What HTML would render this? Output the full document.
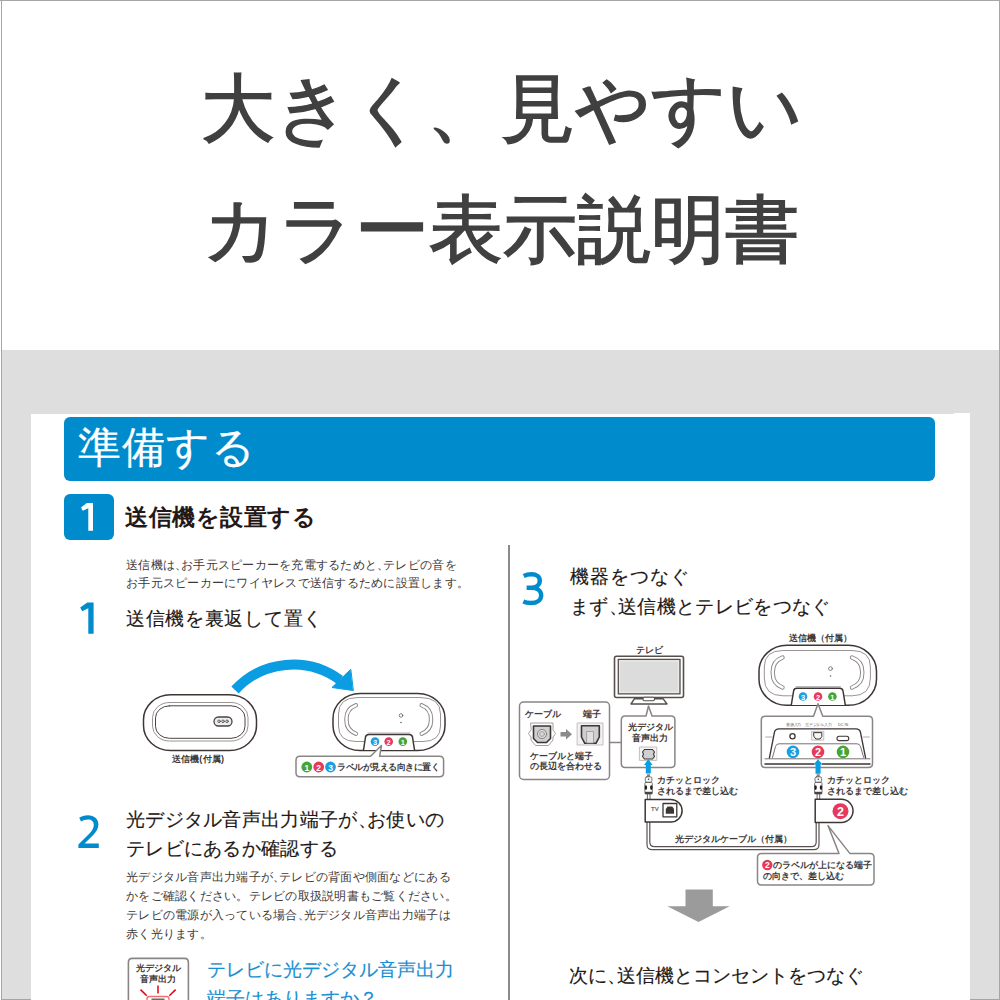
<!DOCTYPE html>
<html><head><meta charset="utf-8">
<style>
html,body{margin:0;padding:0;}
body{width:1000px;height:1000px;position:relative;overflow:hidden;background:#fff;font-family:"Liberation Sans",sans-serif;}
.a{position:absolute;white-space:nowrap;}
.h{left:0;width:1000px;height:1000px;}
.c{letter-spacing:0;}
.k{-webkit-text-stroke:0.15px currentColor}
.lb{color:#3e3a39;z-index:2}.b{font-weight:bold}.hp{display:inline-block;width:0.4em;text-align:center}
.hc{display:inline-block;width:0.5em;overflow:visible;}
</style></head><body>
<!-- top white area with borders -->
<div class="a" style="left:0;top:0;width:1000px;height:1px;background:#a6a6a6"></div>
<div class="a" style="left:1px;top:0;width:1px;height:1000px;background:#a6a6a6"></div>
<div class="a" style="left:999px;top:0;width:1px;height:1000px;background:#a6a6a6"></div>
<!-- gray band -->
<div class="a" style="left:2px;top:350px;width:997px;height:650px;background:#dedede"></div>
<div class="a" style="left:1px;top:999px;width:999px;height:1px;background:#a6a6a6"></div>
<!-- card -->
<div class="a" style="left:31px;top:414px;width:939px;height:586px;background:#fff"></div>
<div class="a" style="left:954px;top:413px;width:16px;height:2px;background:#fff"></div>
<!-- title -->
<div class="a" id="t1" style="-webkit-text-stroke:1.5px #404040;left:201px;top:72px;font-size:74px;line-height:74px;color:#404040">大きく、見やすい</div>
<div class="a" id="t2" style="-webkit-text-stroke:1.5px #404040;left:203px;top:193px;font-size:74px;line-height:74px;color:#404040">カラー表示説明書</div>
<!-- blue bar -->
<div class="a" style="left:64px;top:417px;width:871px;height:64px;background:#008ccc;border-radius:6px"></div>
<div class="a" style="left:78px;top:426px;font-size:43px;line-height:43px;letter-spacing:1px;color:#fff;-webkit-text-stroke:0.2px #fff">準備する</div>
<!-- step 1 box -->
<div class="a" style="left:64px;top:494px;width:50px;height:46px;background:#008ccc;border-radius:6px"></div>
<div class="a" style="left:125px;top:506px;font-size:23px;line-height:23px;letter-spacing:0.5px;color:#231815;font-weight:bold">送信機を設置する</div>
<!-- divider -->
<div class="a" style="left:508px;top:545px;width:2px;height:455px;background:#8a8a8a"></div>

<!-- left column text -->
<div class="a" style="left:126px;top:557px;font-size:12px;letter-spacing:0.26px;line-height:17.7px;color:#3e3a39">送信機は<span class="hc">、</span>お手元スピーカーを充電するためと<span class="hc">、</span>テレビの音を<br>お手元スピーカーにワイヤレスで送信するために設置します。</div>
<div class="a k" style="left:126px;top:609px;font-size:19px;line-height:19px;letter-spacing:0.7px;color:#231815">送信機を裏返して置く</div>

<div class="a k" style="left:126px;top:805px;font-size:19px;letter-spacing:0.3px;line-height:29px;color:#231815">光デジタル音声出力端子が<span class="hc">、</span>お使いの<br>テレビにあるか確認する</div>
<div class="a" style="left:126px;top:868px;font-size:12px;letter-spacing:0.26px;line-height:19px;color:#3e3a39">光デジタル音声出力端子が<span class="hc">、</span>テレビの背面や側面などにある<br>かをご確認ください。テレビの取扱説明書もご覧ください。<br>テレビの電源が入っている場合<span class="hc">、</span>光デジタル音声出力端子は<br>赤く光ります。</div>

<div class="a k" style="left:207px;top:956px;font-size:19px;line-height:28.5px;color:#1a8fd0">テレビに光デジタル音声出力<br>端子はありますか？</div>

<!-- right column -->
<div class="a k" style="left:570px;top:562px;font-size:19px;letter-spacing:0.3px;line-height:29.5px;color:#231815"><span style="letter-spacing:1.1px">機器をつなぐ</span><br>まず<span class="hc">、</span>送信機とテレビをつなぐ</div>
<div class="a k" style="left:569px;top:966px;font-size:19px;line-height:19px;color:#231815">次に<span class="hc">、</span>送信機とコンセントをつなぐ</div>


<!-- diagram labels -->
<div class="a lb b" style="left:172px;top:754px;font-size:9px;line-height:10px;">送信機<span class="hp">(</span>付属<span class="hp">)</span></div>
<div class="a lb b" style="left:337px;top:762px;font-size:9px;line-height:10px;letter-spacing:-0.5px">ラベルが見える向きに置く</div>
<div class="a lb b" style="left:636px;top:645px;font-size:9px;line-height:10px;">テレビ</div>
<div class="a lb b" style="left:525px;top:709px;font-size:9px;line-height:10px;">ケーブル</div>
<div class="a lb b" style="left:583px;top:709px;font-size:9px;line-height:10px;">端子</div>
<div class="a lb b" style="left:530px;top:751px;font-size:9px;line-height:10px;">ケーブルと端子<br>の長辺を合わせる</div>
<div class="a lb b" style="left:627px;top:722px;font-size:9px;line-height:10.5px;text-align:center;width:46px;">光デジタル<br>音声出力</div>
<div class="a lb b" style="left:657px;top:775px;font-size:9px;line-height:10.5px;">カチッとロック<br>されるまで差し込む</div>
<div class="a lb b" style="left:827px;top:775px;font-size:9px;line-height:10.5px;">カチッとロック<br>されるまで差し込む</div>
<div class="a lb b" style="left:675px;top:834px;font-size:9px;line-height:10px;">光デジタルケーブル（付属）</div>
<div class="a lb b" style="left:789px;top:633px;font-size:9px;line-height:10px;">送信機（付属）</div>
<div class="a lb b" style="left:773px;top:860px;font-size:9px;line-height:10.5px;">のラベルが上になる端子<br><span style="margin-left:-10px">の向きで、差し込む</span></div>
<div class="a lb b" style="left:651px;top:806px;font-size:6px;line-height:6px;color:#666">TV</div>
<div class="a lb" style="left:785.5px;top:723px;font-size:8px;line-height:8px;color:#555;transform:scale(0.47);transform-origin:0 0">音源入力</div>
<div class="a lb" style="left:805px;top:723px;font-size:8px;line-height:8px;color:#555;transform:scale(0.47);transform-origin:0 0">光デジタル入力</div>
<div class="a lb" style="left:838px;top:723px;font-size:8px;line-height:8px;color:#555;transform:scale(0.47);transform-origin:0 0">DC IN</div>
<div class="a lb b" style="left:135px;top:963px;font-size:9px;line-height:10.5px;text-align:center;width:46px;">光デジタル<br>音声出力</div>
<svg class="a h" style="left:0;top:0" width="1000" height="1000" viewBox="0 0 1000 1000">
<g fill="none" stroke-linejoin="round" stroke-linecap="round">
<!-- ===== Section 1 illustration ===== -->
<!-- left device -->
<rect x="143.5" y="694.8" width="113" height="55.7" rx="27" ry="25" stroke="#3d3635" stroke-width="1.5"/>
<rect x="152.5" y="702.5" width="95.5" height="38.5" rx="17" ry="15" stroke="#9a9494" stroke-width="1"/>
<rect x="155.5" y="705.8" width="89.5" height="32.5" rx="14" ry="12" stroke="#4a4342" stroke-width="1"/>
<rect x="214" y="717" width="18" height="9" rx="4.5" stroke="#4a4342" stroke-width="1.3" fill="#eee"/>
<circle cx="219" cy="721.3" r="1.3" stroke="#4a4342" stroke-width="0.8"/>
<circle cx="223" cy="721.3" r="1.3" stroke="#4a4342" stroke-width="0.8"/>
<circle cx="227" cy="721.3" r="1.3" stroke="#4a4342" stroke-width="0.8"/>
<!-- blue curved arrow -->
<path d="M235 690 A79 79 0 0 1 340 680" stroke="#0a9de2" stroke-width="10" stroke-linecap="butt"/>
<path d="M350.5 669.5 L332 687.5 L353 690.5 Z" fill="#0a9de2" stroke="#0a9de2" stroke-width="1"/>
<!-- right device -->
<rect x="333" y="693.5" width="112" height="57" rx="27" ry="25" stroke="#3d3635" stroke-width="1.5"/>
<path d="M364 741.5 L356 741.5 Q338.5 741.5 338.5 726 L338.5 714 Q338.5 697.5 358 697.5 L420 697.5 Q440.5 697.5 440.5 714 L440.5 726 Q440.5 741.5 423 741.5 L414 741.5" stroke="#9a9494" stroke-width="1"/>
<path d="M355.8 705.3 C350.7 707.3 346.5 711.8 346.5 718.5 L346.5 720.5 C346.5 727.2 350.7 731.7 355.8 733.7" stroke="#8a8484" stroke-width="4.4"/>
<path d="M355.8 705.3 C350.7 707.3 346.5 711.8 346.5 718.5 L346.5 720.5 C346.5 727.2 350.7 731.7 355.8 733.7" stroke="#fff" stroke-width="2.5"/>
<path d="M421.7 705.3 C426.8 707.3 431 711.8 431 718.5 L431 720.5 C431 727.2 426.8 731.7 421.7 733.7" stroke="#8a8484" stroke-width="4.4"/>
<path d="M421.7 705.3 C426.8 707.3 431 711.8 431 718.5 L431 720.5 C431 727.2 426.8 731.7 421.7 733.7" stroke="#fff" stroke-width="2.5"/>
<circle cx="401" cy="715.5" r="1.8" stroke="#6a6363" stroke-width="0.8"/>
<circle cx="401" cy="722.5" r="0.8" fill="#6a6363" stroke="none"/>
<path d="M363.5 750 L365.5 737 Q366 734.5 369 734.5 L409 734.5 Q412 734.5 412.5 737 L414.5 750" stroke="#3d3635" stroke-width="1.5" fill="#fff"/>
<path d="M368 733 L410 733" stroke="#9a9494" stroke-width="0.8"/>
<!-- callout -->
<path d="M300 756.3 L370.5 756.3 L381.5 745.5 L379.6 756.3 L439.5 756.3 Q443.6 756.3 443.6 760.3 L443.6 772.7 Q443.6 776.7 439.5 776.7 L300 776.7 Q296 776.7 296 772.7 L296 760.3 Q296 756.3 300 756.3 Z" stroke="#8a8585" stroke-width="1.5" fill="#fff"/>

<!-- ===== Section 2 icon ===== -->
<path d="M128.4 1002 L128.4 962.4 Q128.4 958.4 132.4 958.4 L184.4 958.4 Q188.4 958.4 188.4 962.4 L188.4 1002" stroke="#8a8585" stroke-width="1.6"/>
<path d="M158 985.5 L158 993.5 M140.5 989.6 L146.8 995.8 M175.6 989.6 L169.3 995.8" stroke="#e60012" stroke-width="1.5" stroke-linecap="butt"/>
<rect x="147" y="996.5" width="22" height="10" rx="2.5" stroke="#ef6f6f" stroke-width="1.3"/>
<rect x="151.5" y="998.5" width="13" height="6" fill="#6d6a6a" stroke="none"/>

<!-- ===== Section 3 diagram ===== -->
<!-- TV -->
<rect x="614.5" y="656.2" width="69" height="41.3" rx="2" stroke="#574e4d" stroke-width="1.6" fill="#fff"/>
<rect x="618.3" y="659.3" width="61.7" height="34.6" stroke="#574e4d" stroke-width="1.3" fill="#dcdcdc"/>
<rect x="620" y="661" width="58.3" height="31.2" stroke="#f4f4f4" stroke-width="0.7"/>
<path d="M634.5 698.7 L663 698.7 L667 704 L631 704 Z" stroke="#574e4d" stroke-width="1.4" fill="#fff"/>
<rect x="643" y="697.2" width="11.5" height="3.6" rx="1.5" stroke="#574e4d" stroke-width="1.1" fill="#fff"/>
<!-- left info box -->
<rect x="519.5" y="702" width="90" height="77.5" rx="4" stroke="#8a8585" stroke-width="1.5" fill="#fff"/>
<path d="M609.5 742.5 L621.3 742.5" stroke="#8a8585" stroke-width="1.3"/>
<!-- cable icon -->
<path d="M531 723 L553 723 L553 730 L555.5 733.5 L553 737 L553 740 L548.5 745.5 L535.5 745.5 L531 740 L531 737 L528.5 733.5 L531 730 Z" stroke="#9a9494" stroke-width="0.9" fill="#fff"/>
<path d="M533.5 726 L550.5 726 L550.5 738.5 L546.5 742.5 L537.5 742.5 L533.5 738.5 Z" stroke="#3d3635" stroke-width="1.6" fill="#cfcfcf"/>
<circle cx="542" cy="734" r="4.6" stroke="#8a8585" stroke-width="1" fill="#d8d8d8"/>
<circle cx="542" cy="734" r="2.4" stroke="#9a9494" stroke-width="0.8"/>
<path d="M560.5 732 L566 732 L566 729 L572 734.3 L566 739.6 L566 736.6 L560.5 736.6 Z" fill="#8f8a8a" stroke="none"/>
<!-- terminal icon -->
<rect x="577.5" y="723" width="25.5" height="22" stroke="#bdb8b8" stroke-width="0.9" fill="#f2f2f2"/>
<path d="M581.5 725.8 L599.3 725.8 L599.3 737 L596 743.3 L584.8 743.3 L581.5 737 Z" stroke="#3d3635" stroke-width="1.6" fill="#cfcfcf"/>
<rect x="587" y="731.5" width="6.5" height="11.5" stroke="#9a9494" stroke-width="0.8" fill="#e0e0e0"/>
<!-- middle callout box -->
<path d="M625.3 716 L646 716 L648.5 706 L652 716 L670.9 716 Q674.9 716 674.9 720 L674.9 763.6 Q674.9 767.6 670.9 767.6 L625.3 767.6 Q621.3 767.6 621.3 763.6 L621.3 720 Q621.3 716 625.3 716 Z" stroke="#8a8585" stroke-width="1.5" fill="#fff"/>
<rect x="639.8" y="747" width="17" height="13.4" stroke="#bdb8b8" stroke-width="0.9" fill="#f2f2f2"/>
<path d="M644.5 749.5 L652.5 749.5 L654.5 752 L653.5 754 L654.5 756.5 L652.5 759 L644.5 759 L642.5 756.5 L643.5 754 L642.5 752 Z" stroke="#3d3635" stroke-width="1.1" fill="#d0d0d0"/>
<!-- plugs -->
<g id="plug">
<rect x="647" y="774.2" width="3" height="3" fill="#8a8484" stroke="none"/>
<rect x="645.3" y="776.8" width="6.6" height="5.4" rx="1.5" stroke="#6a6363" stroke-width="0.9" fill="#f6f6f6"/>
<circle cx="648.6" cy="779.2" r="0.7" fill="#333" stroke="none"/>
<rect x="644.9" y="782.5" width="7.4" height="11.5" rx="1" stroke="#6a6363" stroke-width="0.9" fill="#fff"/>
<ellipse cx="645.9" cy="787.6" rx="1.2" ry="2.3" fill="#221c1b" stroke="none"/>
<ellipse cx="651.3" cy="787.6" rx="1.2" ry="2.3" fill="#221c1b" stroke="none"/>
<rect x="645" y="791.8" width="7.2" height="2.2" fill="#4a4342" stroke="none"/>
</g>
<use href="#plug" x="169.7" y="0"/>
<!-- cable -->
<path d="M647.4 794 L647.4 799.5 M650 794 L650 799.5" stroke="#5a5252" stroke-width="0.9"/>
<path d="M817.1 794 L817.1 799.5 M819.7 794 L819.7 799.5" stroke="#5a5252" stroke-width="0.9"/>
<path d="M647 822 L647 844.5 Q647 849.7 652.2 849.7 L813.7 849.7 Q819 849.7 819 844.5 L819 822.4" stroke="#5a5252" stroke-width="1.2"/>
<path d="M649.8 822 L649.8 842 Q649.8 846.7 654.5 846.7 L811.5 846.7 Q816.2 846.7 816.2 842 L816.2 822.4" stroke="#5a5252" stroke-width="1.2"/>
<!-- TV connector -->
<path d="M645.2 799.5 L670.8 799.5 A11.3 11.3 0 0 1 670.8 822.1 L645.2 822.1 Z" stroke="#3d3635" stroke-width="1.5" fill="#fff"/>
<rect x="663" y="803.5" width="13.8" height="13.3" stroke="#3d3635" stroke-width="1.3" fill="#fff"/>
<path d="M667.5 806.5 L672.3 806.5 L674 809 L674 813.8 L665.8 813.8 L665.8 809 Z" fill="#3d3635" stroke="none"/>
<!-- right connector -->
<path d="M815.2 799.3 L841.5 799.3 A11.55 11.55 0 0 1 841.5 822.4 L815.2 822.4 Z" stroke="#3d3635" stroke-width="1.5" fill="#fff"/>
<!-- right device -->
<rect x="759" y="645.3" width="117.5" height="60" rx="28" ry="26" stroke="#3d3635" stroke-width="1.5" fill="#fff"/>
<path d="M792 695.8 L783 695.8 Q764.3 695.8 764.3 678 L764.3 667 Q764.3 650.5 783 650.5 L852 650.5 Q870.4 650.5 870.4 667 L870.4 678 Q870.4 695.8 852 695.8 L844 695.8" stroke="#9a9494" stroke-width="1"/>
<path d="M782.5 657.5 C777.2 659.5 772.8 664.0 772.8 671.5 L772.8 673.5 C772.8 681.0 777.2 685.5 782.5 687.5" stroke="#8a8484" stroke-width="4.4"/>
<path d="M782.5 657.5 C777.2 659.5 772.8 664.0 772.8 671.5 L772.8 673.5 C772.8 681.0 777.2 685.5 782.5 687.5" stroke="#fff" stroke-width="2.5"/>
<path d="M852 657.5 C857.6 659.5 862.2 664.0 862.2 671.5 L862.2 673.5 C862.2 681.0 857.6 685.5 852 687.5" stroke="#8a8484" stroke-width="4.4"/>
<path d="M852 657.5 C857.6 659.5 862.2 664.0 862.2 671.5 L862.2 673.5 C862.2 681.0 857.6 685.5 852 687.5" stroke="#fff" stroke-width="2.5"/>
<circle cx="830.5" cy="668.6" r="1.9" stroke="#6a6363" stroke-width="0.8"/>
<circle cx="830.5" cy="676" r="0.8" fill="#6a6363" stroke="none"/>
<path d="M791.3 705 L793.6 691 Q794 688.3 797 688.3 L839.5 688.3 Q842.6 688.3 843 691 L845.3 705" stroke="#3d3635" stroke-width="1.5" fill="#fff"/>
<path d="M796 686.7 L840.5 686.7" stroke="#9a9494" stroke-width="0.8"/>
<!-- right callout (device back) -->
<path d="M765.3 716.2 L813.5 716.2 L818 703.7 L822.8 716.2 L868.5 716.2 Q872.5 716.2 872.5 720.2 L872.5 763.5 Q872.5 767.5 868.5 767.5 L765.3 767.5 Q761.3 767.5 761.3 763.5 L761.3 720.2 Q761.3 716.2 765.3 716.2 Z" stroke="#8a8585" stroke-width="1.5" fill="#fff"/>
<path d="M769.4 758 L774.5 732 Q775.3 728.8 779 728.8 L856 728.8 Q859.6 728.8 860.4 732 L865.6 758" stroke="#3d3635" stroke-width="1.3"/>
<path d="M772.5 757.5 L775.5 746.5 Q776.3 743.8 779 743.8 L857 743.8 Q859.7 743.8 860.5 746.5 L863.7 757.5" stroke="#6a6363" stroke-width="0.9"/>
<path d="M765.6 737 L772 737 M863.2 737 L869.4 737" stroke="#9a9494" stroke-width="0.8"/>
<path d="M765 758.8 L870 758.8" stroke="#6a6363" stroke-width="0.9"/>
<path d="M765 764 L814 764 M822.5 764 L870 764" stroke="#3d3635" stroke-width="1.6"/>
<circle cx="792.5" cy="736.3" r="2.6" stroke="#3d3635" stroke-width="1.3" fill="#fff"/>
<rect x="812" y="731.3" width="11.8" height="8.8" stroke="#bdb8b8" stroke-width="0.9" fill="#f5f5f5"/>
<path d="M814 732.6 L821.8 732.6 L821.8 736.5 L820 739 L815.8 739 L814 736.5 Z" stroke="#3d3635" stroke-width="1"/>
<rect x="837" y="736.3" width="11.8" height="4.3" rx="2.1" stroke="#3d3635" stroke-width="1.1"/>
<!-- blue arrows -->
<path d="M648.3 759.3 L652.6 765 L650.8 765 L650.8 773.6 L645.8 773.6 L645.8 765 L644 765 Z" fill="#0a9de2" stroke="none"/>
<path d="M818 759.3 L822.4 764.5 L820.6 764.5 L820.6 773.7 L815.5 773.7 L815.5 764.5 L813.7 764.5 Z" fill="#0a9de2" stroke="none"/>
<!-- bottom callout -->
<path d="M761.5 853.6 L839 853.6 L828 825.6 L850 853.6 L870 853.6 Q874 853.6 874 857.6 L874 881 Q874 885 870 885 L761.5 885 Q757.5 885 757.5 881 L757.5 857.6 Q757.5 853.6 761.5 853.6 Z" stroke="#8a8585" stroke-width="1.5" fill="#fff"/>
<!-- big gray arrow -->
<path d="M685.5 889.4 L712.8 889.4 L712.8 906.3 L729.7 906.3 L698.5 922 L667.3 906.3 L685.5 906.3 Z" fill="#9b9b9b" stroke="none"/>
</g>
<!-- big numerals -->
<path d="M81 507.5 L86.8 503.1 L93 503.1 L93 530.7 L88.3 530.7 L88.3 508.2 L82.7 510.7 Z" fill="#fff" stroke="none"/>
<path d="M80.2 607.4 L87.3 602.6 L93.6 602.6 L93.6 633.8 L88.3 633.8 L88.3 608.2 L82.2 611.3 Z" fill="#008ccc" stroke="none"/>
<path d="M78.4 847.9 L98.8 847.9 L98.8 843.5 L84.6 843.5 L93 835.3 C96.5 831.5 98.4 828.5 98.4 824.5 C98.4 819 94 815.3 88 815.3 C84.5 815.3 81.5 816.2 79.2 817.8 L81 821.6 C83 820.3 85.5 819.6 88 819.6 C91.5 819.6 93.8 821.5 93.8 825 C93.8 828 92 830.8 89 834 L78.4 844.6 Z" fill="#008ccc" stroke="none"/>
<path d="M523.7 575.9 C526 574.8 529 574.3 531.5 574.3 C536.5 574.3 539.8 576.6 539.8 580.6 C539.8 585 536 587.8 531 587.8 L526.6 587.8 M531 587.8 C537 587.8 541.2 590.5 541.2 595.3 C541.2 600 537 603 531 603 C528 603 525.5 602.6 523.3 601.6" stroke="#008ccc" stroke-width="4.4" stroke-linecap="butt" stroke-linejoin="miter" fill="none"/>
<!-- colored numbered circles -->
<g font-family="Liberation Sans, sans-serif" font-weight="bold" text-anchor="middle" fill="#fff">
<circle cx="375" cy="741.6" r="4.3" fill="#1aa0e0"/><text x="375" y="744.6" font-size="7.5">3</text>
<circle cx="388.7" cy="741.6" r="4.3" fill="#e6395b"/><text x="388.7" y="744.6" font-size="7.5">2</text>
<circle cx="402.8" cy="741.6" r="4.3" fill="#48a535"/><text x="402.8" y="744.6" font-size="7.5">1</text>
<circle cx="306.8" cy="767" r="5.4" fill="#48a535"/><text x="306.8" y="770.5" font-size="8.5">1</text>
<circle cx="318.7" cy="767" r="5.4" fill="#e6395b"/><text x="318.7" y="770.5" font-size="8.5">2</text>
<circle cx="330.5" cy="767" r="5.4" fill="#1aa0e0"/><text x="330.5" y="770.5" font-size="8.5">3</text>
<circle cx="803" cy="696.5" r="4.3" fill="#1aa0e0"/><text x="803" y="699.5" font-size="7.5">3</text>
<circle cx="818" cy="696.5" r="4.3" fill="#e6395b"/><text x="818" y="699.5" font-size="7.5">2</text>
<circle cx="832.4" cy="696.5" r="4.3" fill="#48a535"/><text x="832.4" y="699.5" font-size="7.5">1</text>
<circle cx="793" cy="751.9" r="6.3" fill="#1aa0e0"/><text x="793" y="756.3" font-size="11">3</text>
<circle cx="818" cy="751.9" r="6.3" fill="#e6395b"/><text x="818" y="756.3" font-size="11">2</text>
<circle cx="843" cy="751.9" r="6.3" fill="#48a535"/><text x="843" y="756.3" font-size="11">1</text>
<circle cx="840.5" cy="811.2" r="8" fill="#e6395b"/><text x="840.5" y="816.3" font-size="12.5">2</text>
<circle cx="767.3" cy="865" r="5.2" fill="#e6395b"/><text x="767.3" y="868.3" font-size="8.5">2</text>
</g>
</svg>
</body></html>
